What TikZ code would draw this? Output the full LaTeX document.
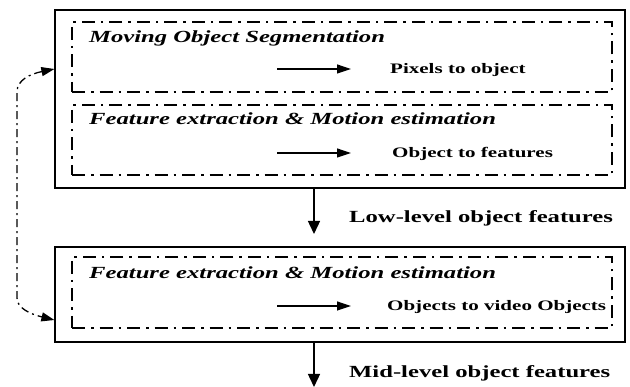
\documentclass[tikz,border=0pt]{standalone}
\usepackage{fontspec}
\setmainfont{Liberation Serif}[FakeStretch=1.45]
\usetikzlibrary{arrows.meta}

\tikzset{
  outerbox/.style={draw=black, line width=1.2pt, minimum width=570pt},
  stagebox/.style={draw=black, line width=2.2pt, dash pattern=on 13pt off 6pt on 2.5pt off 6pt, minimum width=540pt},
  heading/.style={anchor=base west, inner sep=0pt, font=\fontsize{17}{19}\selectfont\bfseries\itshape},
  stepnote/.style={anchor=base west, inner sep=0pt, font=\fontsize{14.5}{16}\selectfont\bfseries},
  levelnote/.style={anchor=base west, inner sep=0pt, font=\fontsize{17}{19}\selectfont\bfseries},
  harrow/.style={line width=1.2pt, -{Triangle[length=14pt,width=9pt]}},
  varrow/.style={line width=1.4pt, -{Triangle[length=13pt,width=12pt]}},
  feedback/.style={line width=1.3pt, dash pattern=on 8pt off 4pt on 2pt off 4pt,
    {Triangle[length=13pt,width=9pt]}-{Triangle[length=13pt,width=9pt]}}
}

\begin{document}
\begin{tikzpicture}[x=1pt, y=-1pt]
  \useasboundingbox (0,0) rectangle (630,387);
  \fill[white] (0,0) rectangle (630,387);

  % outer processing blocks
  \node[outerbox, minimum height=178pt] (blockA) at (340,99) {};
  \node[outerbox, minimum height=95pt] (blockB) at (340,294.5) {};

  % dash-dotted stages
  \node[stagebox, minimum height=70pt] (segm) at (342,57) {};
  \node[stagebox, minimum height=70pt] (feat) at (342,140) {};
  \node[stagebox, minimum height=71pt] (track) at (342,292.5) {};

  % stage titles
  \node[heading] (segmT) at (89,42.5) {Moving Object Segmentation};
  \node[heading] (featT) at (89,125) {Feature extraction \& Motion estimation};
  \node[heading] (trackT) at (89,279) {Feature extraction \& Motion estimation};

  % stage outputs
  \node[stepnote] (segmL) at (390,74) {Pixels to object};
  \node[stepnote] (featL) at (392,157.5) {Object to features};
  \node[stepnote] (trackL) at (387,311) {Objects to video Objects};

  \coordinate (h1s) at (277,69);   \coordinate (h1e) at (351,69);
  \coordinate (h2s) at (277,153);  \coordinate (h2e) at (351,153);
  \coordinate (h3s) at (277,306);  \coordinate (h3e) at (351,306);
  \draw[harrow] (h1s) -- (h1e);
  \draw[harrow] (h2s) -- (h2e);
  \draw[harrow] (h3s) -- (h3e);

  % flow between blocks
  \coordinate (v1) at (314,234);
  \coordinate (v2) at (314,387);
  \draw[varrow] (blockA.south -| v1) -- (v1);
  \draw[varrow] (blockB.south -| v2) -- (v2);

  \node[levelnote] (lowL) at (349,222.5) {Low-level object features};
  \node[levelnote] (midL) at (349,378) {Mid-level object features};

  % feedback loop between the two blocks
  \coordinate (fbA) at (blockA.west |- 0,69);
  \coordinate (fbB) at (blockB.west |- 0,320);
  \draw[feedback] (fbA) .. controls (30,74) and (17,80) .. (17,92)
    -- (17,298) .. controls (17,308) and (30,314) .. (fbB);
\end{tikzpicture}
\end{document}
